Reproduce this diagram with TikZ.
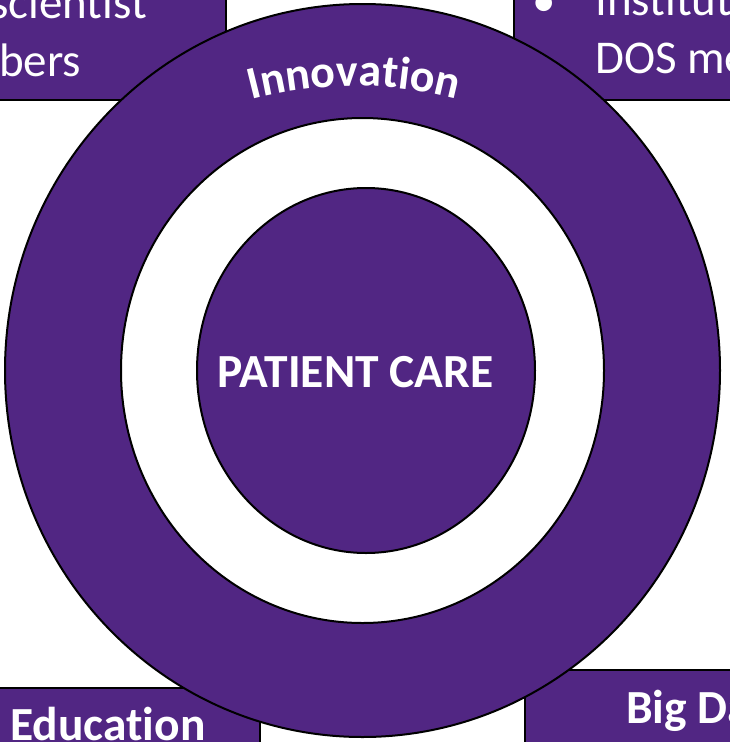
\documentclass[tikz,border=0pt]{standalone}
\usepackage{fontspec}
\setmainfont{Carlito}[Ligatures={NoCommon}]
\usetikzlibrary{decorations.text}
\definecolor{wpurple}{RGB}{81,38,131}
\begin{document}
\begin{tikzpicture}[x=1pt,y=1pt,
  box/.style={fill=wpurple,draw=black,line width=1.5pt},
  ring/.style={draw=black,line width=2pt},
  txt/.style={text=white,inner sep=0pt,anchor=base west,font=\fontsize{47}{56}\selectfont},
  btxt/.style={text=white,inner sep=0pt,font=\bfseries\fontsize{47.5}{56}\selectfont}]
\useasboundingbox (0,0) rectangle (730,-742);
\clip (0,0) rectangle (730,-742);
% corner boxes (behind the circles)
\draw[box] (-10,10) rectangle (226,-100);
\draw[box] (514,10) rectangle (745,-100);
\draw[box] (-10,-688) rectangle (260,-760);
\draw[box] (525,-670) rectangle (745,-760);
% box texts
\node[txt] (tl1) at (-10,-18) {scientist};
\node[txt] (tl2) at (-1,-76) {bers};
\node[txt] (trb) at (532,-16) {•};
\node[txt] (tr1) at (595,-15) {Institut};
\node[txt] (tr2) at (595,-73) {DOS me};
\node[btxt,anchor=base west] (edu) at (10,-740) {Education};
\node[btxt,anchor=base west] (big) at (626,-723) {Big Da};
% rings
\draw[ring,fill=wpurple] (362.5,-370.5) ellipse [x radius=357.5, y radius=366.5];
\draw[ring,fill=white] (362.5,-370.5) ellipse [x radius=241.5, y radius=252.5];
\draw[ring,fill=wpurple] (366,-370.5) ellipse [x radius=169, y radius=182.5];
% centre text
\node[btxt] (care) at (355.5,-372) {PATIENT CARE};
% curved label
\path[decorate,decoration={text along path,text align=center,text color=white,
  text={|\bfseries\fontsize{46}{46}\selectfont|Innovation}}]
  (354,-486) ++(110:400) arc[start angle=110,end angle=70,radius=400];
\end{tikzpicture}
\end{document}
